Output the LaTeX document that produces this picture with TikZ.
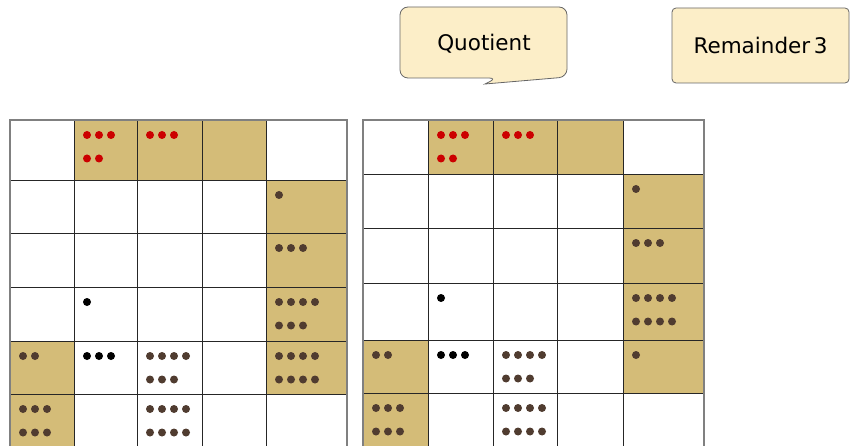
\documentclass[tikz,border=0pt]{standalone}
\usepackage{fontspec}
\setmainfont{DejaVu Sans}

\definecolor{tancell}{RGB}{212,188,120}
\definecolor{cream}{RGB}{252,238,200}
\definecolor{beadbrown}{RGB}{80,60,48}
\definecolor{beadred}{RGB}{204,0,0}

\tikzset{
  cell/.style={fill=tancell},
  gridline/.style={line width=0.8pt, black!85},
  frameline/.style={line width=1.3pt, black!50},
  tag/.style={draw=black!60, fill=cream, line width=0.8pt},
  tagtext/.style={font=\fontsize{21.5}{26}\selectfont}
}

% one row of beads in a cell: x, y of the cell corner, line (1 or 2), count, colour
\newcommand{\beadrow}[5]{%
  \foreach \i in {1,...,#4}
    \fill[#5] (#1+1+12*\i,#2+15+23.5*#3-23.5) circle (4pt);
}
\newcommand{\tanbox}[4]{\fill[cell] (#1,#2) rectangle (#3,#4);}

\begin{document}
\begin{tikzpicture}[x=1pt, y=-1pt]
  \useasboundingbox (0,0) rectangle (850,446);
  \clip (0,0) rectangle (850,446);

  % Left board: shaded cells.
  \tanbox{74}{120}{266}{180}
  \tanbox{266}{180}{347}{394}
  \tanbox{10}{341}{74}{460}

  % Left board: beads.
  \beadrow{74}{120}{1}{3}{beadred}
  \beadrow{74}{120}{2}{2}{beadred}
  \beadrow{137}{120}{1}{3}{beadred}
  \beadrow{266}{180}{1}{1}{beadbrown}
  \beadrow{266}{233}{1}{3}{beadbrown}
  \beadrow{74}{287}{1}{1}{black}
  \beadrow{266}{287}{1}{4}{beadbrown}
  \beadrow{266}{287}{2}{3}{beadbrown}
  \beadrow{10}{341}{1}{2}{beadbrown}
  \beadrow{74}{341}{1}{3}{black}
  \beadrow{137}{341}{1}{4}{beadbrown}
  \beadrow{137}{341}{2}{3}{beadbrown}
  \beadrow{266}{341}{1}{4}{beadbrown}
  \beadrow{266}{341}{2}{4}{beadbrown}
  \beadrow{10}{394}{1}{3}{beadbrown}
  \beadrow{10}{394}{2}{3}{beadbrown}
  \beadrow{137}{394}{1}{4}{beadbrown}
  \beadrow{137}{394}{2}{4}{beadbrown}

  % Left board: lines.
  \foreach \x in {74,137,202,266}
    \draw[gridline] (\x,120) -- (\x,460);
  \foreach \y in {180,233,287,341,394}
    \draw[gridline] (10,\y) -- (347,\y);
  \draw[frameline] (10,460) |- (347,120) -- (347,460);

  % Right board: shaded cells.
  \tanbox{428}{120}{623}{174}
  \tanbox{623}{174}{704}{393}
  \tanbox{363}{340}{428}{460}

  % Right board: beads.
  \beadrow{428}{120}{1}{3}{beadred}
  \beadrow{428}{120}{2}{2}{beadred}
  \beadrow{493}{120}{1}{3}{beadred}
  \beadrow{623}{174}{1}{1}{beadbrown}
  \beadrow{623}{228}{1}{3}{beadbrown}
  \beadrow{428}{283}{1}{1}{black}
  \beadrow{623}{283}{1}{4}{beadbrown}
  \beadrow{623}{283}{2}{4}{beadbrown}
  \beadrow{363}{340}{1}{2}{beadbrown}
  \beadrow{428}{340}{1}{3}{black}
  \beadrow{493}{340}{1}{4}{beadbrown}
  \beadrow{493}{340}{2}{3}{beadbrown}
  \beadrow{623}{340}{1}{1}{beadbrown}
  \beadrow{363}{393}{1}{3}{beadbrown}
  \beadrow{363}{393}{2}{3}{beadbrown}
  \beadrow{493}{393}{1}{4}{beadbrown}
  \beadrow{493}{393}{2}{4}{beadbrown}

  % Right board: lines.
  \foreach \x in {428,493,557,623}
    \draw[gridline] (\x,120) -- (\x,460);
  \foreach \y in {174,228,283,340,393}
    \draw[gridline] (363,\y) -- (704,\y);
  \draw[frameline] (363,460) |- (704,120) -- (704,460);

  % Speech bubble and remainder box.
  \draw[tag] (485,84) [rounded corners=8pt] -- (567,77) -- (567,7) -- (400,7)
    -- (400,78) -- (497,78) [sharp corners] -- cycle;
  \node[tagtext] (quot) at (484,44) {Quotient};
  \node[tag, tagtext, rounded corners=4pt, minimum width=177pt, minimum height=75pt]
    (rem) at (760.5,45.5) {Remainder\,3};
\end{tikzpicture}
\end{document}
